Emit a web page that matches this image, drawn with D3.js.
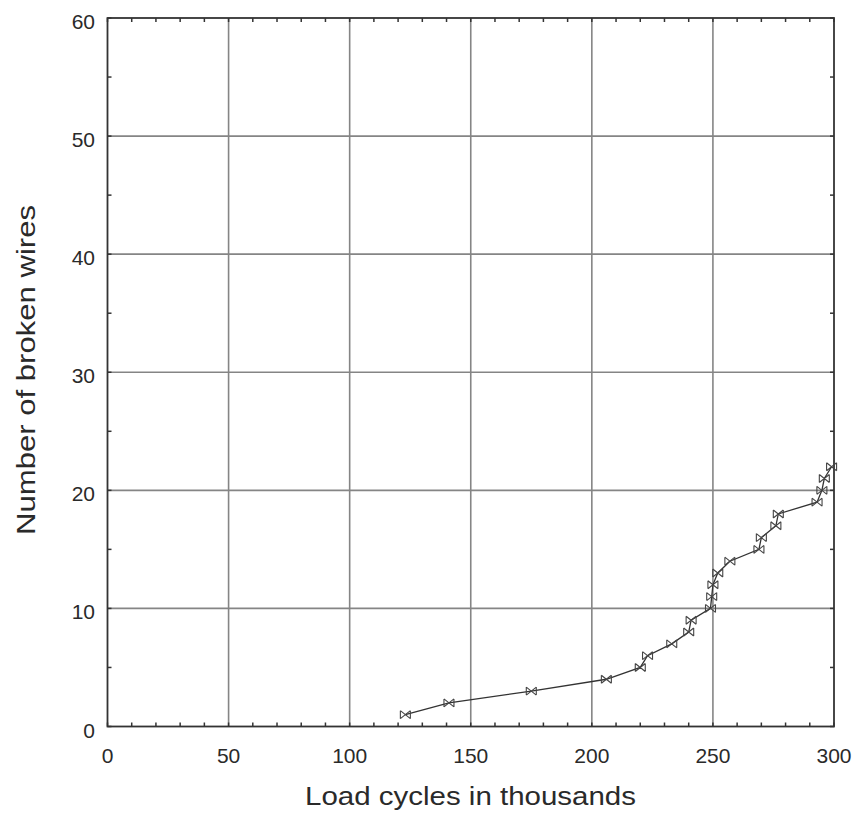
<!DOCTYPE html>
<html>
<head>
<meta charset="utf-8">
<script src="https://cdn.jsdelivr.net/npm/d3@7"></script>
<style>
  html, body { margin: 0; padding: 0; background: #fff; }
  svg { display: block; }
  text { font-family: "Liberation Sans", Arial, sans-serif; fill: #2a2a2a; }
</style>
</head>
<body>
<svg id="chart" width="856" height="814"></svg>
<script>
// Load cycles (thousands) at which each successive wire break was recorded
const loadCycles = [123, 141, 175, 206, 220, 223, 233, 240, 241, 249, 249.5, 250, 252, 257, 269, 270, 276, 277, 293, 295, 296, 299];
const brokenWires = [1, 2, 3, 4, 5, 6, 7, 8, 9, 10, 11, 12, 13, 14, 15, 16, 17, 18, 19, 20, 21, 22];

const xTicks = [0, 50, 100, 150, 200, 250, 300];
const yTicks = [0, 10, 20, 30, 40, 50, 60];
const xMinorTicks = d3.range(0, 301, 10);
const yMinorTicks = d3.range(0, 61, 5);

const xLabel = "Load cycles in thousands";
const yLabel = "Number of broken wires";

const svg = d3.select("#chart");
const plotLeft = 107.5, plotRight = 834, plotTop = 18, plotBottom = 726.5;

const x = d3.scaleLinear().domain([0, 300]).range([plotLeft, plotRight]);
const y = d3.scaleLinear().domain([0, 60]).range([plotBottom, plotTop]);

// grid lines
const grid = svg.append("g").attr("stroke", "#858585").attr("stroke-width", 1.6);
grid.append("g").selectAll("line").data(xTicks.slice(1, -1)).join("line")
  .attr("x1", d => x(d)).attr("x2", d => x(d)).attr("y1", plotTop).attr("y2", plotBottom);
grid.append("g").selectAll("line").data(yTicks.slice(1, -1)).join("line")
  .attr("y1", d => y(d)).attr("y2", d => y(d)).attr("x1", plotLeft).attr("x2", plotRight);

// inward ticks on all four sides
const tickLen = 4;
const ticks = svg.append("g").attr("stroke", "#333").attr("stroke-width", 1.5);
ticks.append("g").selectAll("line").data(xMinorTicks).join("line")
  .attr("x1", d => x(d)).attr("x2", d => x(d)).attr("y1", plotBottom).attr("y2", plotBottom - tickLen);
ticks.append("g").selectAll("line").data(xMinorTicks).join("line")
  .attr("x1", d => x(d)).attr("x2", d => x(d)).attr("y1", plotTop).attr("y2", plotTop + tickLen);
ticks.append("g").selectAll("line").data(yMinorTicks).join("line")
  .attr("y1", d => y(d)).attr("y2", d => y(d)).attr("x1", plotLeft).attr("x2", plotLeft + tickLen);
ticks.append("g").selectAll("line").data(yMinorTicks).join("line")
  .attr("y1", d => y(d)).attr("y2", d => y(d)).attr("x1", plotRight).attr("x2", plotRight - tickLen);

// frame
svg.append("rect")
  .attr("x", plotLeft).attr("y", plotTop)
  .attr("width", plotRight - plotLeft).attr("height", plotBottom - plotTop)
  .attr("fill", "none").attr("stroke", "#333").attr("stroke-width", 1.8);

// tick labels
svg.append("g").selectAll("text").data(xTicks).join("text")
  .attr("x", d => x(d)).attr("y", plotBottom + 36)
  .attr("text-anchor", "middle").attr("font-size", 21)
  .text(d => d);
svg.append("g").selectAll("text").data(yTicks).join("text")
  .attr("x", plotLeft - 12.5).attr("y", d => y(d) + 11)
  .attr("text-anchor", "end").attr("font-size", 21)
  .text(d => d);

// axis titles
svg.append("text")
  .attr("x", 470.5).attr("y", 805)
  .attr("text-anchor", "middle").attr("font-size", 25)
  .attr("textLength", 331).attr("lengthAdjust", "spacingAndGlyphs")
  .text(xLabel);
svg.append("text")
  .attr("transform", `translate(35, 370) rotate(-90)`)
  .attr("text-anchor", "middle").attr("font-size", 25)
  .attr("textLength", 330).attr("lengthAdjust", "spacingAndGlyphs")
  .text(yLabel);

// data line and bowtie markers
const pts = loadCycles.map((c, i) => [c, brokenWires[i]]);
svg.append("path")
  .datum(pts)
  .attr("fill", "none").attr("stroke", "#333").attr("stroke-width", 1.3)
  .attr("d", d3.line().x(d => x(d[0])).y(d => y(d[1])));

const mw = 5, mh = 4;
const marker = `M${-mw},${-mh}V${mh}M${mw},${-mh}V${mh}M${-mw},${-mh}L${mw},${mh}M${-mw},${mh}L${mw},${-mh}`;
svg.append("g").selectAll("path").data(pts).join("path")
  .attr("transform", d => `translate(${x(d[0])},${y(d[1])})`)
  .attr("d", marker)
  .attr("fill", "none").attr("stroke", "#444").attr("stroke-width", 1.1);
</script>
</body>
</html>
